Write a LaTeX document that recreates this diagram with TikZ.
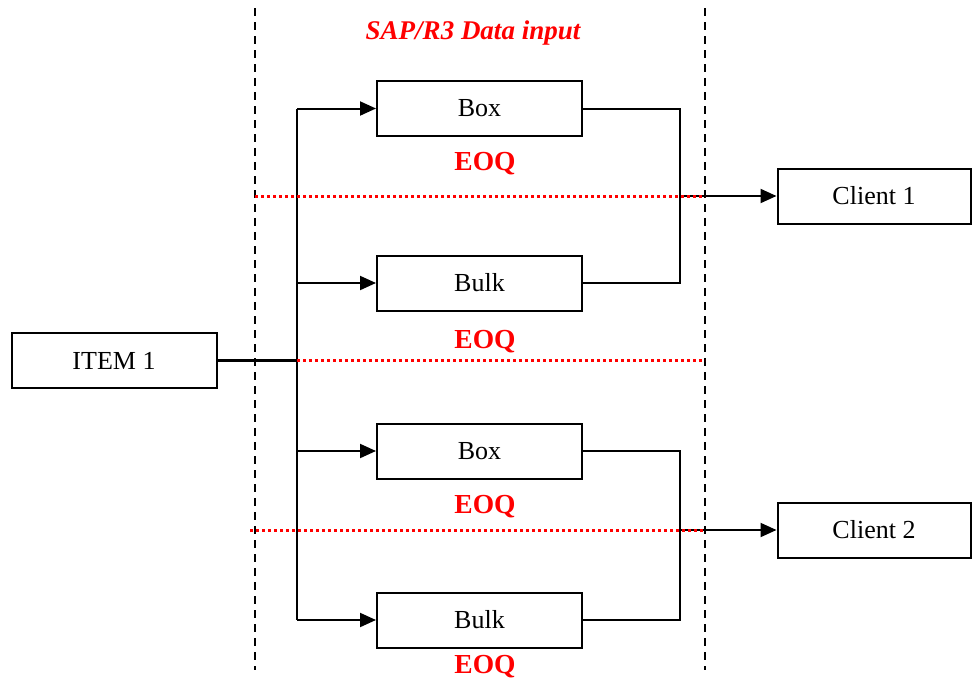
\documentclass[tikz,border=0pt]{standalone}
\usepackage{fontspec}
\setmainfont{Liberation Serif}
\usetikzlibrary{arrows.meta}
\begin{document}
\begin{tikzpicture}[x=1pt,y=-1pt,
  boxnode/.style={draw,line width=2pt,minimum width=205pt,minimum height=55pt,inner sep=0pt,font=\fontsize{26}{30}\selectfont},
  conn/.style={line width=2pt},
  arr/.style={conn,-{Triangle[length=16pt,width=14pt]}},
  sep/.style={line width=2pt,dash pattern=on 8pt off 6pt},
  reddot/.style={red,line width=3pt,dash pattern=on 3pt off 3pt},
  eoq/.style={red,font=\fontsize{27.5}{32}\selectfont\bfseries},
]
\useasboundingbox (0,0) rectangle (972,680);
% separators
\draw[sep] (255,8) -- (255,670);
\draw[sep] (705,8) -- (705,670);
% title
\node[red,font=\fontsize{27}{32}\selectfont\bfseries\itshape] (title) at (473,33) {SAP/R3 Data input};
% nodes
\node[boxnode] (item) at (114,360.5) {ITEM 1};
\node[boxnode] (box1) at (479.5,108.5) {Box};
\node[boxnode] (bulk1) at (479.5,283) {Bulk};
\node[boxnode] (box2) at (479.5,451) {Box};
\node[boxnode] (bulk2) at (479.5,620) {Bulk};
\node[boxnode,minimum width=193pt] (c1) at (874,196) {Client 1};
\node[boxnode,minimum width=193pt] (c2) at (874,530) {Client 2};
% EOQ labels
\node[eoq] (e1) at (485,164) {EOQ};
\node[eoq] (e2) at (485,342) {EOQ};
\node[eoq] (e3) at (485,507) {EOQ};
\node[eoq] (e4) at (485,667) {EOQ};
% trunk
\coordinate (tj) at (297,360.5);
\coordinate (ttop) at (297,108.5);
\coordinate (tbot) at (297,620);
\draw[line width=3pt] (item.east) -- (tj);
\draw[conn] (ttop) -- (tbot);
\draw[arr] (ttop) -- (box1.west);
\draw[arr] (297,283) -- (bulk1.west);
\draw[arr] (297,451) -- (box2.west);
\draw[arr] (tbot) -- (bulk2.west);
% collectors
\coordinate (j1) at (680,196);
\coordinate (j2) at (680,530);
\draw[conn] (box1.east) -| (j1);
\draw[conn] (bulk1.east) -| (j1);
\draw[arr] (j1) -- (c1.west);
\draw[conn] (box2.east) -| (j2);
\draw[conn] (bulk2.east) -| (j2);
\draw[arr] (j2) -- (c2.west);
% red dotted lines
\coordinate (d1a) at (255,196); \coordinate (d1b) at (705,196);
\coordinate (d2a) at (297,360); \coordinate (d2b) at (705,360);
\coordinate (d3a) at (250,530); \coordinate (d3b) at (705,530);
\draw[reddot] (d1a) -- (d1b);
\draw[reddot] (d2a) -- (d2b);
\draw[reddot] (d3a) -- (d3b);
\end{tikzpicture}
\end{document}
